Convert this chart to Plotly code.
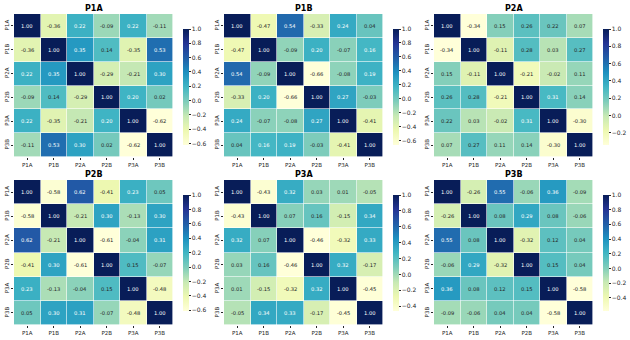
import plotly.graph_objects as go

labels = ["P1A", "P1B", "P2A", "P2B", "P3A", "P3B"]
panel_names = ["P1A", "P1B", "P2A", "P2B", "P3A", "P3B"]

P1A = [[1.00, -0.36, 0.22, -0.09, 0.22, -0.11],
       [-0.36, 1.00, 0.35, 0.14, -0.35, 0.53],
       [0.22, 0.35, 1.00, -0.29, -0.21, 0.30],
       [-0.09, 0.14, -0.29, 1.00, 0.20, 0.02],
       [0.22, -0.35, -0.21, 0.20, 1.00, -0.62],
       [-0.11, 0.53, 0.30, 0.02, -0.62, 1.00]]
P1B = [[1.00, -0.47, 0.54, -0.33, 0.24, 0.04],
       [-0.47, 1.00, -0.09, 0.20, -0.07, 0.16],
       [0.54, -0.09, 1.00, -0.66, -0.08, 0.19],
       [-0.33, 0.20, -0.66, 1.00, 0.27, -0.03],
       [0.24, -0.07, -0.08, 0.27, 1.00, -0.41],
       [0.04, 0.16, 0.19, -0.03, -0.41, 1.00]]
P2A = [[1.00, -0.34, 0.15, 0.26, 0.22, 0.07],
       [-0.34, 1.00, -0.11, 0.28, 0.03, 0.27],
       [0.15, -0.11, 1.00, -0.21, -0.02, 0.11],
       [0.26, 0.28, -0.21, 1.00, 0.31, 0.14],
       [0.22, 0.03, -0.02, 0.31, 1.00, -0.30],
       [0.07, 0.27, 0.11, 0.14, -0.30, 1.00]]
P2B = [[1.00, -0.58, 0.62, -0.41, 0.23, 0.05],
       [-0.58, 1.00, -0.21, 0.30, -0.13, 0.30],
       [0.62, -0.21, 1.00, -0.61, -0.04, 0.31],
       [-0.41, 0.30, -0.61, 1.00, 0.15, -0.07],
       [0.23, -0.13, -0.04, 0.15, 1.00, -0.48],
       [0.05, 0.30, 0.31, -0.07, -0.48, 1.00]]
P3A = [[1.00, -0.43, 0.32, 0.03, 0.01, -0.05],
       [-0.43, 1.00, 0.07, 0.16, -0.15, 0.34],
       [0.32, 0.07, 1.00, -0.46, -0.32, 0.33],
       [0.03, 0.16, -0.46, 1.00, 0.32, -0.17],
       [0.01, -0.15, -0.32, 0.32, 1.00, -0.45],
       [-0.05, 0.34, 0.33, -0.17, -0.45, 1.00]]
P3B = [[1.00, -0.26, 0.55, -0.06, 0.36, -0.09],
       [-0.26, 1.00, 0.08, 0.29, 0.08, -0.06],
       [0.55, 0.08, 1.00, -0.32, 0.12, 0.04],
       [-0.06, 0.29, -0.32, 1.00, 0.15, 0.04],
       [0.36, 0.08, 0.12, 0.15, 1.00, -0.58],
       [-0.09, -0.06, 0.04, 0.04, -0.58, 1.00]]
matrices = [P1A, P1B, P2A, P2B, P3A, P3B]

YLGNBU = ["#ffffd9", "#edf8b1", "#c7e9b4", "#7fcdbb", "#41b6c4",
          "#1d91c0", "#225ea8", "#253494", "#081d58"]
colorscale = [[i / (len(YLGNBU) - 1), c] for i, c in enumerate(YLGNBU)]

W, H = 630, 340
FONT = "DejaVu Sans"
DARK = "#262626"


def hex2rgb(h):
    return tuple(int(h[i:i + 2], 16) for i in (1, 3, 5))


def color_at(t):
    t = min(max(t, 0), 1)
    n = len(YLGNBU) - 1
    i = min(int(t * n), n - 1)
    f = t * n - i
    a, b = hex2rgb(YLGNBU[i]), hex2rgb(YLGNBU[i + 1])
    return tuple(a[k] + (b[k] - a[k]) * f for k in range(3))


def lum(rgb):
    out = []
    for c in rgb:
        c = c / 255
        out.append(c / 12.92 if c <= 0.03928 else ((c + 0.055) / 1.055) ** 2.4)
    return 0.2126 * out[0] + 0.7152 * out[1] + 0.0722 * out[2]


# pixel layout
col_x = [(14, 173), (224, 383), (434, 593)]
row_y = [(14, 157), (180, 325)]
cbar_y = [(29, 145), (195, 311)]
title_y = [8, 174]

fig = go.Figure()
annotations = []
for p, (name, m) in enumerate(zip(panel_names, matrices)):
    r, c = divmod(p, 3)
    x0, x1 = col_x[c]
    y0, y1 = row_y[r]
    zmin = min(min(row) for row in m)
    zmax = 1.0
    ax = "" if p == 0 else str(p + 1)
    cy0, cy1 = cbar_y[r]
    fig.add_trace(go.Heatmap(
        z=m, x=labels, y=labels, zmin=zmin, zmax=zmax,
        colorscale=colorscale, xgap=0.6, ygap=0.6,
        xaxis="x" + ax, yaxis="y" + ax,
        colorbar=dict(
            x=(x1 + 10) / W, xanchor="left", xpad=0, ypad=0, thickness=6,
            y=1 - (cy0 + cy1) / 2 / H, yanchor="middle",
            len=(cy1 - cy0), lenmode="pixels",
            outlinewidth=0, ticks="outside", ticklen=2, tickwidth=0.6,
            tickcolor=DARK, dtick=0.2, tick0=0, tickformat=".1f",
            tickfont=dict(size=6, family=FONT, color=DARK),
        ),
        hoverinfo="skip",
    ))
    fig.layout["xaxis" + ax] = dict(
        domain=[x0 / W, x1 / W], anchor="y" + ax,
        showgrid=False, zeroline=False, showline=False,
        ticks="outside", ticklen=2, tickwidth=0.6, tickcolor=DARK,
        tickfont=dict(size=5.5, family=FONT, color=DARK), tickangle=0,
    )
    fig.layout["yaxis" + ax] = dict(
        domain=[1 - y1 / H, 1 - y0 / H], anchor="x" + ax,
        autorange="reversed",
        showgrid=False, zeroline=False, showline=False,
        ticks="outside", ticklen=2, tickwidth=0.6, tickcolor=DARK,
        tickfont=dict(size=5.5, family=FONT, color=DARK), tickangle=-90,
    )
    annotations.append(dict(
        text="<b>" + name + "</b>", xref="paper", yref="paper",
        x=(x0 + x1) / 2 / W, y=1 - title_y[r] / H,
        showarrow=False, font=dict(size=8, family=FONT, color="black"),
        xanchor="center", yanchor="middle",
    ))
    for i, yl in enumerate(labels):
        for j, xl in enumerate(labels):
            v = m[i][j]
            rgb = color_at((v - zmin) / (zmax - zmin))
            tc = DARK if lum(rgb) > 0.408 else "white"
            annotations.append(dict(
                text=f"{v:.2f}", x=xl, y=yl, xref="x" + ax, yref="y" + ax,
                showarrow=False, font=dict(size=5.2, family=FONT, color=tc),
            ))

fig.update_layout(
    width=W, height=H, margin=dict(l=0, r=0, t=0, b=0),
    paper_bgcolor="white", plot_bgcolor="white",
    annotations=annotations, showlegend=False,
)
fig.write_html("out.html")
